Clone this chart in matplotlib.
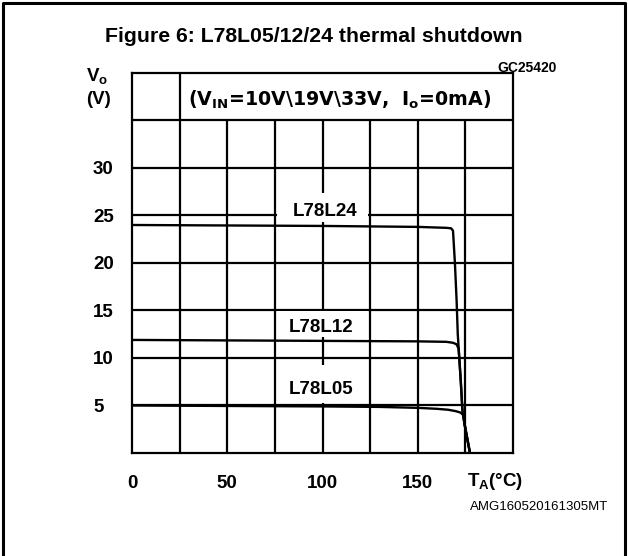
import matplotlib
matplotlib.use('Agg')
import matplotlib.pyplot as plt
from matplotlib.patches import Rectangle
from matplotlib.lines import Line2D

# Curve data (T in degC, Vo in V)
t_l78l24 = [0, 50, 100, 150, 165, 167.5, 168.5, 169.5, 170.4, 171.0, 171.8, 172.6, 173.4, 174.6, 176.0, 177.4]
v_l78l24 = [24.0, 23.95, 23.9, 23.8, 23.7, 23.65, 23.4, 20, 16, 12.5, 10, 7.5, 4.6, 3.0, 1.5, 0]

t_l78l12 = [0, 50, 100, 150, 165, 168.5, 170.3, 171.4, 171.8, 172.6, 173.4, 174.6, 176.0, 177.4]
v_l78l12 = [11.9, 11.85, 11.8, 11.75, 11.7, 11.6, 11.45, 11.0, 10, 7.5, 4.6, 3.0, 1.5, 0]

t_l78l05 = [0, 50, 100, 130, 150, 160, 166, 170, 172.5, 173.8, 174.6, 176.0, 177.4]
v_l78l05 = [5.0, 4.95, 4.9, 4.85, 4.75, 4.65, 4.55, 4.4, 4.25, 4.0, 3.0, 1.5, 0]

series_names = ['L78L24', 'L78L12', 'L78L05']
x_ticks = [0, 50, 100, 150]
y_ticks = [5, 10, 15, 20, 25, 30]

FONT = 'Liberation Sans'


def draw_grid(ax):
    # horizontal lines every 5 V, vertical every 25 degC (top row is the header box)
    for y in range(5, 40, 5):
        ax.plot([0, 200], [y, y], color='black', lw=1.6, zorder=2, solid_capstyle='butt')
    for x in range(25, 200, 25):
        top = 40 if x == 25 else 35
        ax.plot([x, x], [0, top], color='black', lw=1.6, zorder=2, solid_capstyle='butt')


def draw_labels(ax):
    # white boxes behind the curve names hide the grid lines
    boxes = [(24.3, 3.1), (12.2, 2.7), (5.3, 4.0)]
    text_pos = [(101.5, 25.4), (99.0, 13.2), (99.5, 6.7)]
    for name, (y0, h), (tx, ty) in zip(series_names, boxes, text_pos):
        ax.add_patch(Rectangle((76, y0), 48, h, facecolor='white', edgecolor='none', zorder=2.5))
        ax.text(tx, ty, name, ha='center', va='center', fontsize=13.5,
                fontweight='bold', family=FONT, zorder=4)


def main():
    fig = plt.figure(figsize=(6.28, 5.56), dpi=100)
    ax = fig.add_axes([0.2102, 0.1853, 0.6067, 0.6834])

    ax.set_xlim(0, 200)
    ax.set_ylim(0, 40)

    draw_grid(ax)

    for t, v in [(t_l78l24, v_l78l24), (t_l78l12, v_l78l12), (t_l78l05, v_l78l05)]:
        ax.plot(t, v, color='black', lw=1.7, zorder=3)

    draw_labels(ax)

    for s in ax.spines.values():
        s.set_linewidth(1.6)

    # tick labels
    ax.set_xticks(x_ticks)
    ax.set_xticklabels([str(x) for x in x_ticks])
    ax.set_yticks(y_ticks)
    ax.set_yticklabels([str(y) for y in y_ticks])
    ax.tick_params(axis='x', length=0, pad=16)
    ax.tick_params(axis='y', length=0, pad=28)
    for lbl in ax.get_xticklabels() + ax.get_yticklabels():
        lbl.set_fontsize(13.5)
        lbl.set_fontweight('bold')
        lbl.set_family(FONT)
    for lbl in ax.get_yticklabels():
        lbl.set_horizontalalignment('left')

    # axis captions and test conditions
    ax.text(29.4, 37.2, r'(V$_\mathregular{IN}$=10V\19V\33V,  I$_\mathregular{o}$=0mA)',
            ha='left', va='center', fontsize=13.7, fontweight='bold', family='DejaVu Sans')
    ax.text(-18.4, 39.6, r'V$_\mathregular{o}$', ha='center', va='center', fontsize=13.5,
            fontweight='bold', family=FONT, clip_on=False)
    ax.text(-17.5, 37.2, '(V)', ha='center', va='center', fontsize=13.5,
            fontweight='bold', family=FONT, clip_on=False)
    ax.text(175.6, -3.05, r'T$_\mathregular{A}$(°C)', ha='left', va='center', fontsize=13.5,
            fontweight='bold', family=FONT, clip_on=False)

    # figure title and document codes
    fig.text(0.5, 1 - 36 / 556, 'Figure 6: L78L05/12/24 thermal shutdown', ha='center', va='center',
             fontsize=15.3, fontweight='bold', family=FONT)
    fig.text(557 / 628, 1 - 68 / 556, 'GC25420', ha='right', va='center', fontsize=10,
             fontweight='bold', family=FONT)
    fig.text(608 / 628, 1 - 507 / 556, 'AMG160520161305MT', ha='right', va='center',
             fontsize=9.5, family=FONT)

    # outer frame (left, top, right)
    fx = [3 / 628, 3 / 628, 625 / 628, 625 / 628]
    fy = [0, 1 - 3 / 556, 1 - 3 / 556, 0]
    fig.add_artist(Line2D(fx, fy, color='black', lw=2.2, transform=fig.transFigure))

    fig.savefig('out.png', dpi=100)


if __name__ == "__main__":
    main()
